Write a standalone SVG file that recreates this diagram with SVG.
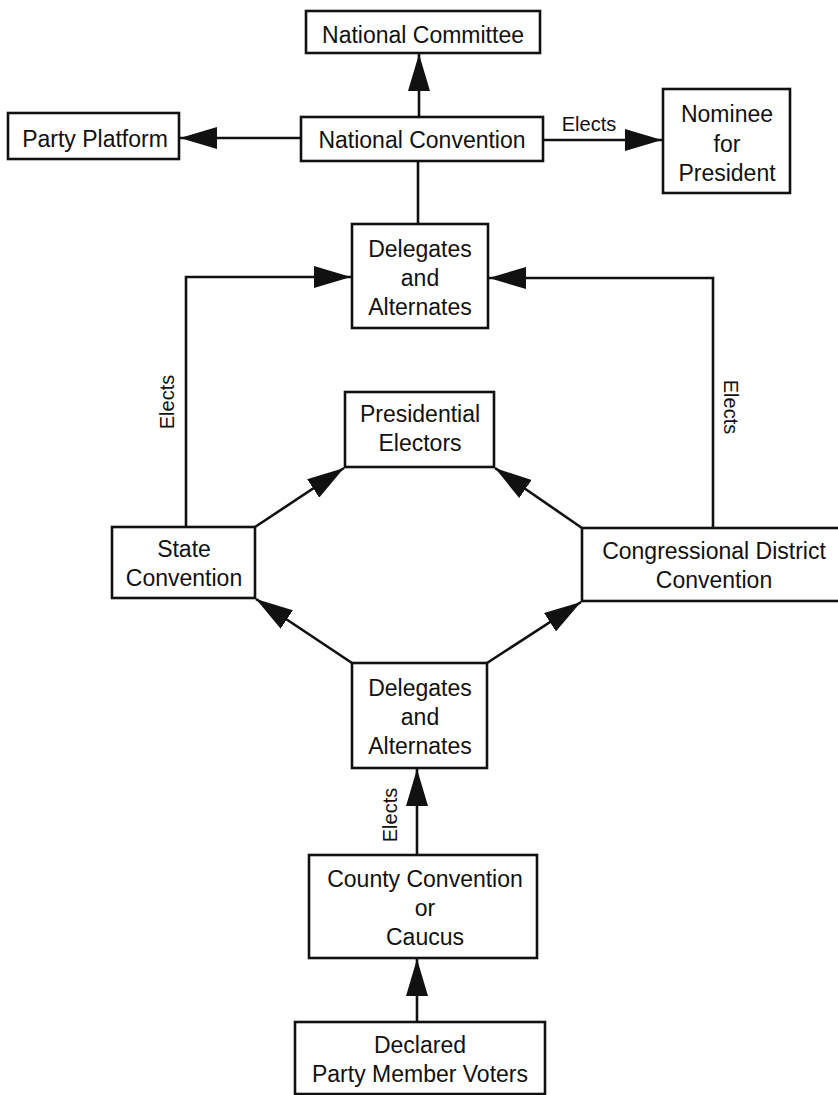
<svg xmlns="http://www.w3.org/2000/svg" width="838" height="1095" viewBox="0 0 838 1095">
  <style>
    .box { fill: #fff; stroke: #111; stroke-width: 2.6; }
    .lbl { font-family: "Liberation Sans", Arial, Helvetica, sans-serif; font-size: 23px; fill: #111; text-anchor: middle; }
    .edge { font-family: "Liberation Sans", Arial, Helvetica, sans-serif; font-size: 20px; fill: #111; text-anchor: middle; }
    .wire { fill: none; stroke: #111; stroke-width: 2.6; }
    .arr { marker-end: url(#head); }
  </style>
  <defs>
    <marker id="head" markerUnits="userSpaceOnUse" markerWidth="38" markerHeight="22" refX="37" refY="11" orient="auto">
      <path d="M0,0 L37,11 L0,22 z" fill="#111"/>
    </marker>
  </defs>
  <rect width="838" height="1095" fill="#fff"/>

  <!-- connectors -->
  <g id="connectors">
    <line class="wire arr" x1="419" y1="117" x2="419" y2="54"/>
    <line class="wire arr" x1="301" y1="138" x2="180" y2="138"/>
    <line class="wire arr" x1="543" y1="140" x2="662" y2="140"/>
    <line class="wire" x1="418" y1="161" x2="418" y2="224"/>
    <path class="wire arr" d="M186,527 V277 H351"/>
    <path class="wire arr" d="M713,528 V278 H489"/>
    <line class="wire arr" x1="255" y1="527" x2="344" y2="468"/>
    <line class="wire arr" x1="582" y1="528" x2="495" y2="468"/>
    <line class="wire arr" x1="352" y1="663" x2="256" y2="599"/>
    <line class="wire arr" x1="487" y1="663" x2="581" y2="602"/>
    <line class="wire arr" x1="417" y1="855" x2="417" y2="769"/>
    <line class="wire arr" x1="417" y1="1022" x2="417" y2="959"/>
    <text class="edge" x="589" y="131">Elects</text>
    <text class="edge" transform="translate(174,402) rotate(-90)">Elects</text>
    <text class="edge" transform="translate(724,407) rotate(90)">Elects</text>
    <text class="edge" transform="translate(397,815) rotate(-90)">Elects</text>
  </g>

  <g id="national-committee">
    <rect class="box" x="306" y="11" width="234" height="42"/>
    <text class="lbl" x="423" y="43">National Committee</text>
  </g>

  <g id="party-platform">
    <rect class="box" x="8" y="113" width="171" height="46"/>
    <text class="lbl" x="95" y="147">Party Platform</text>
  </g>

  <g id="national-convention">
    <rect class="box" x="301" y="117" width="242" height="44"/>
    <text class="lbl" x="422" y="148">National Convention</text>
  </g>

  <g id="nominee">
    <rect class="box" x="663" y="89" width="127" height="104"/>
    <text class="lbl" x="727" y="122">Nominee</text>
    <text class="lbl" x="727" y="152">for</text>
    <text class="lbl" x="727" y="181">President</text>
  </g>

  <g id="delegates-national">
    <rect class="box" x="352" y="224" width="136" height="104"/>
    <text class="lbl" x="420" y="257">Delegates</text>
    <text class="lbl" x="420" y="286">and</text>
    <text class="lbl" x="420" y="315">Alternates</text>
  </g>

  <g id="presidential-electors">
    <rect class="box" x="345" y="392" width="149" height="75"/>
    <text class="lbl" x="420" y="422">Presidential</text>
    <text class="lbl" x="420" y="451">Electors</text>
  </g>

  <g id="state-convention">
    <rect class="box" x="112" y="527" width="143" height="71"/>
    <text class="lbl" x="184" y="557">State</text>
    <text class="lbl" x="184" y="586">Convention</text>
  </g>

  <g id="district-convention">
    <rect class="box" x="582" y="528" width="260" height="73"/>
    <text class="lbl" x="714" y="559">Congressional District</text>
    <text class="lbl" x="714" y="588">Convention</text>
  </g>

  <g id="delegates-state">
    <rect class="box" x="352" y="663" width="135" height="105"/>
    <text class="lbl" x="420" y="696">Delegates</text>
    <text class="lbl" x="420" y="725">and</text>
    <text class="lbl" x="420" y="754">Alternates</text>
  </g>

  <g id="county-convention">
    <rect class="box" x="309" y="855" width="228" height="103"/>
    <text class="lbl" x="425" y="887">County Convention</text>
    <text class="lbl" x="425" y="916">or</text>
    <text class="lbl" x="425" y="945">Caucus</text>
  </g>

  <g id="party-voters">
    <rect class="box" x="295" y="1022" width="250" height="72"/>
    <text class="lbl" x="420" y="1053">Declared</text>
    <text class="lbl" x="420" y="1082">Party Member Voters</text>
  </g>
</svg>
